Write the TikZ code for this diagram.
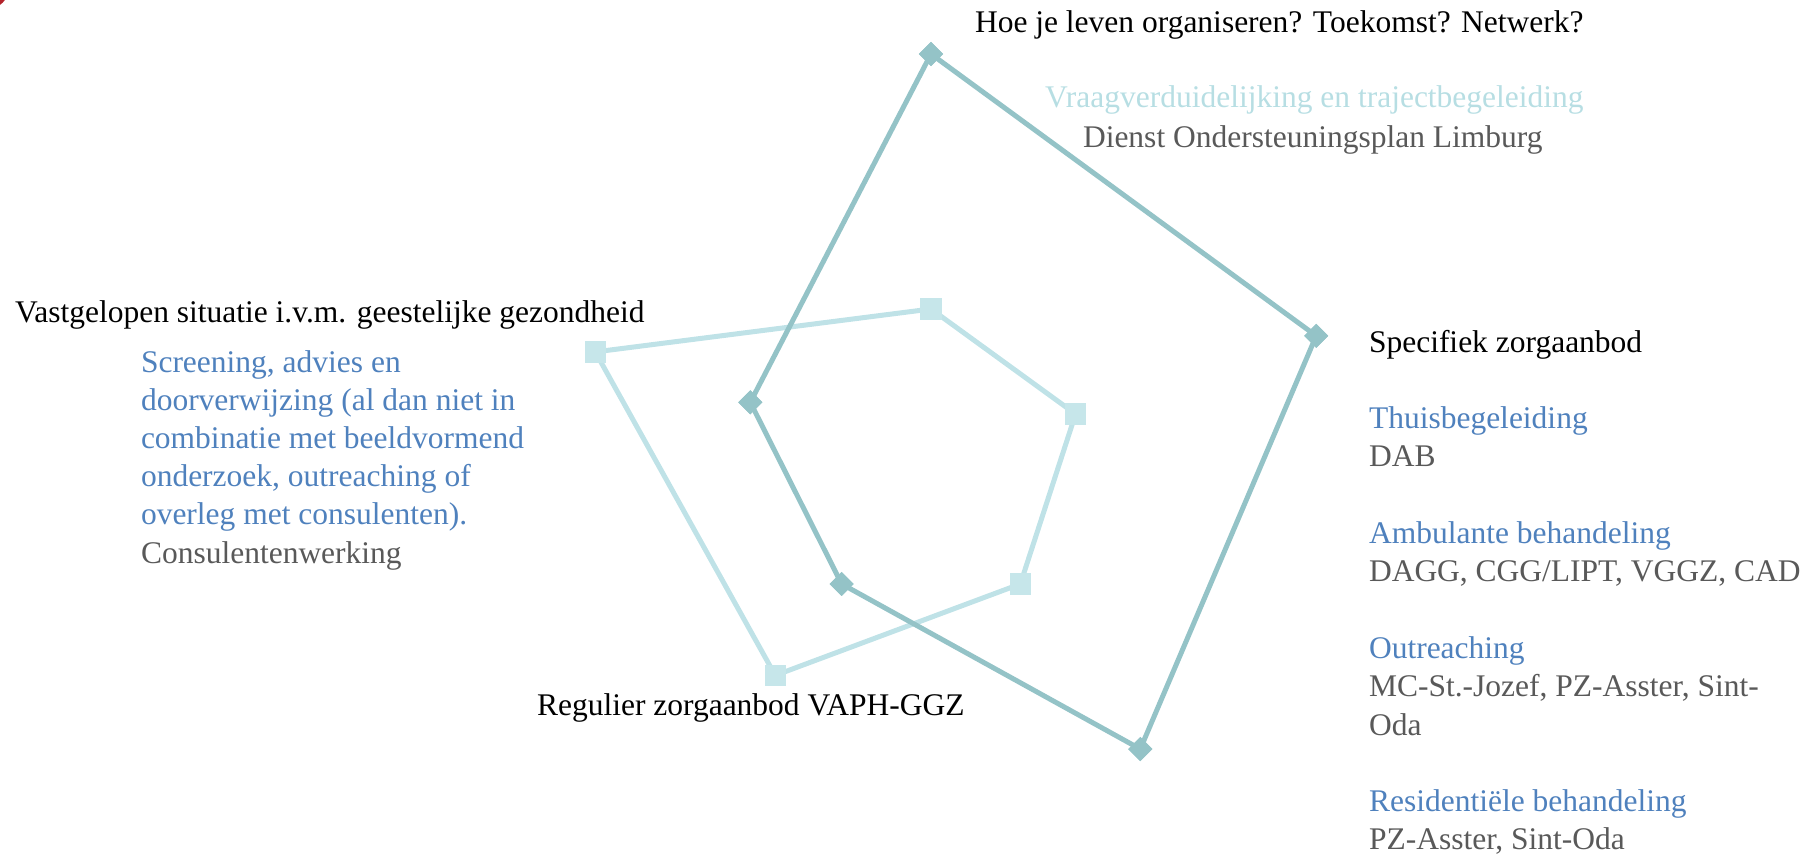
\documentclass[tikz,border=0pt]{standalone}
\usepackage{fontspec}
\setmainfont{Liberation Serif}
\usetikzlibrary{calc}
\definecolor{darkteal}{HTML}{94C3C7}
\definecolor{lightteal}{HTML}{BFE2E7}
\definecolor{lightmark}{HTML}{C6E6EA}
\definecolor{vraagcol}{HTML}{B7DEE3}
\definecolor{bluetxt}{HTML}{4F81BD}
\definecolor{graytxt}{HTML}{595959}
\definecolor{cornerred}{HTML}{B3232B}
\tikzset{
  lbl/.style={anchor=base west, inner sep=0pt, outer sep=0pt, font=\fontsize{31.5}{38.3}\selectfont},
  darkline/.style={draw=darkteal, line width=5pt, line join=round},
  lightline/.style={draw=lightteal, line width=5pt, line join=round},
  darkmark/.style={fill=darkteal, draw=none, rectangle, rotate=45, minimum size=17pt, inner sep=0pt},
  lightsq/.style={fill=lightmark, draw=none, rectangle, minimum size=21pt, inner sep=0pt}
}
\begin{document}
\begin{tikzpicture}[x=1pt,y=-1pt]
\useasboundingbox (0,0) rectangle (1807,856);
\begin{scope}
\clip (0,0) rectangle (1807,856);
\fill[cornerred] (-15,-15) circle (25);
\end{scope}
\coordinate (c) at (931,461);
% light series
\node[lightsq] (l1) at ($(c)+(-90:152)$) {};
\node[lightsq] (l2) at ($(c)+(-18:152)$) {};
\node[lightsq] (l3) at ($(c)+(54:152)$) {};
\node[lightsq] (l4) at ($(c)+(126:265)$) {};
\node[lightsq] (l5) at ($(c)+(198:353)$) {};
\draw[lightline] (l1.center) -- (l2.center) -- (l3.center) -- (l4.center) -- (l5.center) -- cycle;
\foreach \n in {l1,l2,l3,l4,l5} \fill[lightmark] (\n.south west) rectangle (\n.north east);
% dark series
\node[darkmark] (d1) at ($(c)+(-90:407)$) {};
\node[darkmark] (d2) at ($(c)+(-18:405)$) {};
\node[darkmark] (d3) at ($(c)+(54:356)$) {};
\node[darkmark] (d4) at ($(c)+(126:152)$) {};
\node[darkmark] (d5) at ($(c)+(198:190)$) {};
\draw[darkline] (d1.center) -- (d2.center) -- (d3.center) -- (d4.center) -- (d5.center) -- cycle;
\foreach \n in {d1,d2,d3,d4,d5} \node[darkmark] at (\n.center) {};
% top labels
\node[lbl] (hoe) at (975,33) {Hoe je leven organiseren? Toekomst? Netwerk?};
\node[lbl, text=vraagcol] (vraag) at (1045,108) {Vraagverduidelijking en trajectbegeleiding};
\node[lbl, text=graytxt] (dienst) at (1083,148) {Dienst Ondersteuningsplan Limburg};
% left labels
\node[lbl] (vast) at (15,322) {Vastgelopen situatie i.v.m. geestelijke gezondheid};
\node[lbl, text=bluetxt] (s1) at (141,372) {Screening, advies en};
\node[lbl, text=bluetxt] (s2) at (141,410.2) {doorverwijzing (al dan niet in};
\node[lbl, text=bluetxt] (s3) at (141,448.4) {combinatie met beeldvormend};
\node[lbl, text=bluetxt] (s4) at (141,486.6) {onderzoek, outreaching of};
\node[lbl, text=bluetxt] (s5) at (141,524.8) {overleg met consulenten).};
\node[lbl, text=graytxt] (s6) at (141,563) {Consulentenwerking};
% bottom label
\node[lbl] (reg) at (537,715) {Regulier zorgaanbod VAPH-GGZ};
% right labels
\node[lbl] (spec) at (1369,352) {Specifiek zorgaanbod};
\node[lbl, text=bluetxt] (r1) at (1369,428.6) {Thuisbegeleiding};
\node[lbl, text=graytxt] (r2) at (1369,466.9) {DAB};
\node[lbl, text=bluetxt] (r3) at (1369,543.5) {Ambulante behandeling};
\node[lbl, text=graytxt] (r4) at (1369,581.8) {DAGG, CGG/LIPT, VGGZ, CAD};
\node[lbl, text=bluetxt] (r5) at (1369,658.4) {Outreaching};
\node[lbl, text=graytxt] (r6) at (1369,696.7) {MC-St.-Jozef, PZ-Asster, Sint-};
\node[lbl, text=graytxt] (r7) at (1369,735) {Oda};
\node[lbl, text=bluetxt] (r8) at (1369,811.6) {Residentiële behandeling};
\node[lbl, text=graytxt] (r9) at (1369,849.9) {PZ-Asster, Sint-Oda};
\end{tikzpicture}
\end{document}
